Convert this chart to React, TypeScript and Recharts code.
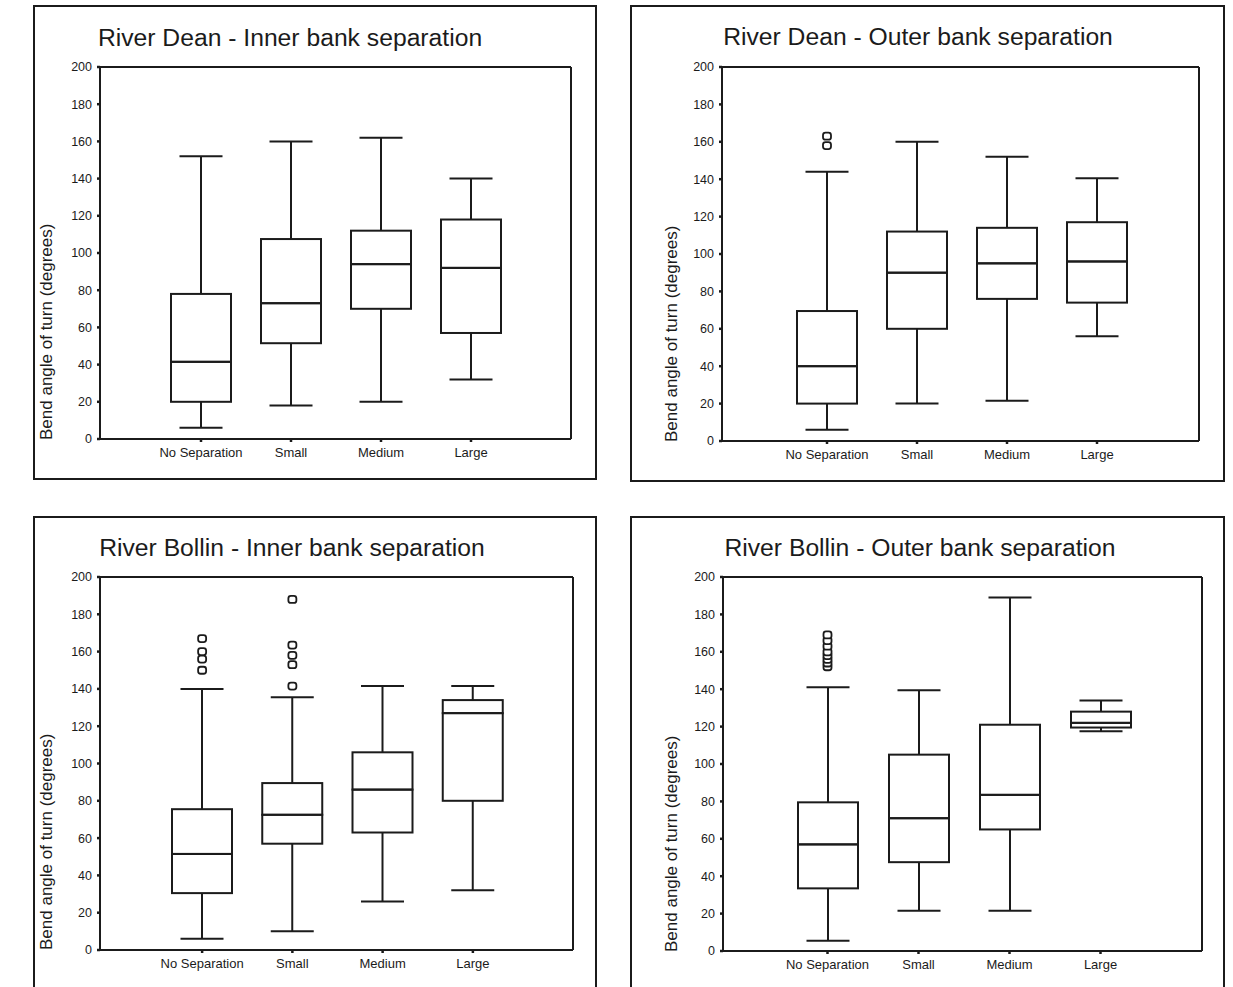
import React from 'react';
import { ComposedChart, Bar, Scatter, XAxis, YAxis } from 'recharts';

const categories = ['No Separation', 'Small', 'Medium', 'Large'];
const yTicks = [0, 20, 40, 60, 80, 100, 120, 140, 160, 180, 200];

// five-number summaries per category: [min, q1, median, q3, max]
const deanInnerStats = [
  [6, 20, 41.5, 78, 152],
  [18, 51.5, 73, 107.5, 160],
  [20, 70, 94, 112, 162],
  [32, 57, 92, 118, 140],
];
const deanInnerOutliers = [[], [], [], []];

const deanOuterStats = [
  [6, 20, 40, 69.5, 144],
  [20, 60, 90, 112, 160],
  [21.5, 76, 95, 114, 152],
  [56, 74, 96, 117, 140.5],
];
const deanOuterOutliers = [[158, 163], [], [], []];

const bollinInnerStats = [
  [6, 30.5, 51.5, 75.5, 140],
  [10, 57, 72.5, 89.5, 135.5],
  [26, 63, 86, 106, 141.5],
  [32, 80, 127, 134, 141.5],
];
const bollinInnerOutliers = [[150, 156, 160, 167], [141.5, 153, 158, 163.5, 188], [], []];

const bollinOuterStats = [
  [5.5, 33.5, 57, 79.5, 141],
  [21.5, 47.5, 71, 105, 139.5],
  [21.5, 65, 83.5, 121, 189],
  [117.5, 119.5, 122, 128, 134],
];
const bollinOuterOutliers = [[152, 154, 156, 158, 160, 163, 166, 169], [], [], []];

const INK = '#1b1b1b';
const FONT = '"Liberation Sans", Arial, Helvetica, sans-serif';
const MAX_OUT = 8;
const outKeys = Array.from({ length: MAX_OUT }, (_, i) => `o${i}`);

function buildRows(stats: number[][], outliers: number[][]) {
  return categories.map((cat, i) => {
    const [mn, q1, md, q3, mx] = stats[i];
    const row: any = { cat, base: mn, lw: q1 - mn, lb: md - q1, hb: q3 - md, hw: mx - q3 };
    outliers[i].forEach((v, j) => { row[`o${j}`] = v; });
    return row;
  });
}

const CAP = 43;

const LowWhisker = (p: any) => {
  const cx = p.x + p.width / 2;
  const yb = p.y + p.height;
  return (
    <g stroke={INK} strokeWidth={2}>
      <line x1={cx} x2={cx} y1={p.y} y2={yb} />
      <line x1={cx - CAP / 2} x2={cx + CAP / 2} y1={yb} y2={yb} />
    </g>
  );
};

const HighWhisker = (p: any) => {
  const cx = p.x + p.width / 2;
  return (
    <g stroke={INK} strokeWidth={2}>
      <line x1={cx} x2={cx} y1={p.y} y2={p.y + p.height} />
      <line x1={cx - CAP / 2} x2={cx + CAP / 2} y1={p.y} y2={p.y} />
    </g>
  );
};

const BoxPart = (p: any) => (
  <rect x={p.x} y={p.y} width={p.width} height={p.height} fill="none" stroke={INK} strokeWidth={2} />
);

const outlierShape = (key: string) => (p: any) => {
  if (!p.payload || p.payload[key] == null) return <g />;
  return <rect x={p.cx - 4} y={p.cy - 3.5} width={8} height={7} rx={2.5} fill="#fff" stroke={INK} strokeWidth={1.8} />;
};

const YW = 45;
const XH = 30;
const EDGE = 1; // size of the top / right frame axes

interface PanelProps {
  title: string;
  rows: any[];
  frame: { left: number; top: number; width: number; height: number };
  plot: { left: number; top: number; right: number; bottom: number };
  pad: { left: number; right: number };
  titleAt: { x: number; y: number };
  labelAt: { x: number; y: number };
}

const Panel: React.FC<PanelProps> = ({ title, rows, frame, plot, pad, titleAt, labelAt }) => {
  const margin = {
    left: plot.left - frame.left - YW,
    top: plot.top - frame.top - EDGE,
    right: frame.left + frame.width - plot.right - EDGE,
    bottom: frame.top + frame.height - plot.bottom - XH,
  };
  return (
    <>
      <div
        style={{
          position: 'absolute', left: frame.left, top: frame.top, width: frame.width - 4,
          height: frame.height - 4, border: `2px solid ${INK}`,
        }}
      />
      <div
        style={{
          position: 'absolute', left: titleAt.x - 300, top: titleAt.y - 14, width: 600, textAlign: 'center',
          fontSize: 24.7, lineHeight: '28px', color: INK, fontFamily: FONT,
        }}
      >
        {title}
      </div>
      <div
        style={{
          position: 'absolute', left: labelAt.x - 10, top: labelAt.y, transform: 'rotate(-90deg)',
          transformOrigin: '0 0', whiteSpace: 'nowrap', fontSize: 17, lineHeight: '20px', color: INK, fontFamily: FONT,
        }}
      >
        Bend angle of turn (degrees)
      </div>
      <div style={{ position: 'absolute', left: frame.left, top: frame.top }}>
        <ComposedChart width={frame.width} height={frame.height} data={rows} margin={margin}>
          <XAxis
            dataKey="cat"
            interval={0}
            padding={pad}
            height={XH}
            tickSize={3}
            tickMargin={6}
            axisLine={{ stroke: INK, strokeWidth: 2 }}
            tickLine={{ stroke: INK, strokeWidth: 2.5 }}
            tick={{ fill: INK, fontSize: 13, fontFamily: FONT }}
          />
          <XAxis
            xAxisId="top"
            orientation="top"
            dataKey="cat"
            height={EDGE}
            tick={false}
            tickLine={false}
            axisLine={{ stroke: INK, strokeWidth: 2 }}
          />
          <YAxis
            domain={[0, 200]}
            ticks={yTicks}
            width={YW}
            tickSize={3}
            tickMargin={5}
            axisLine={{ stroke: INK, strokeWidth: 2 }}
            tickLine={{ stroke: INK, strokeWidth: 2.5 }}
            tick={{ fill: INK, fontSize: 12.5, fontFamily: FONT }}
          />
          <YAxis
            yAxisId="right"
            orientation="right"
            domain={[0, 200]}
            width={EDGE}
            tick={false}
            tickLine={false}
            axisLine={{ stroke: INK, strokeWidth: 2 }}
          />
          <Bar dataKey="base" stackId="b" barSize={60} fill="none" isAnimationActive={false} shape={() => <g />} />
          <Bar dataKey="lw" stackId="b" barSize={60} isAnimationActive={false} shape={LowWhisker} />
          <Bar dataKey="lb" stackId="b" barSize={60} isAnimationActive={false} shape={BoxPart} />
          <Bar dataKey="hb" stackId="b" barSize={60} isAnimationActive={false} shape={BoxPart} />
          <Bar dataKey="hw" stackId="b" barSize={60} isAnimationActive={false} shape={HighWhisker} />
          {outKeys.map((k) => (
            <Scatter key={k} dataKey={k} isAnimationActive={false} shape={outlierShape(k)} />
          ))}
        </ComposedChart>
      </div>
    </>
  );
};

export default function App() {
  return (
    <div
      style={{
        position: 'absolute', left: 0, top: 0, width: 1233, height: 987, overflow: 'hidden',
        background: '#fff', fontFamily: FONT,
      }}
    >
      <Panel
        title="River Dean - Inner bank separation"
        rows={buildRows(deanInnerStats, deanInnerOutliers)}
        frame={{ left: 33, top: 5, width: 564, height: 475 }}
        plot={{ left: 100, top: 67, right: 571, bottom: 439 }}
        pad={{ left: 56, right: 55 }}
        titleAt={{ x: 290, y: 38 }}
        labelAt={{ x: 47, y: 440 }}
      />
      <Panel
        title="River Dean - Outer bank separation"
        rows={buildRows(deanOuterStats, deanOuterOutliers)}
        frame={{ left: 630, top: 5, width: 595, height: 477 }}
        plot={{ left: 722, top: 67, right: 1199, bottom: 441 }}
        pad={{ left: 60, right: 57 }}
        titleAt={{ x: 918, y: 37 }}
        labelAt={{ x: 672, y: 442 }}
      />
      <Panel
        title="River Bollin - Inner bank separation"
        rows={buildRows(bollinInnerStats, bollinInnerOutliers)}
        frame={{ left: 33, top: 516, width: 564, height: 474 }}
        plot={{ left: 100, top: 577, right: 573, bottom: 950 }}
        pad={{ left: 57, right: 55 }}
        titleAt={{ x: 292, y: 548 }}
        labelAt={{ x: 47, y: 950 }}
      />
      <Panel
        title="River Bollin - Outer bank separation"
        rows={buildRows(bollinOuterStats, bollinOuterOutliers)}
        frame={{ left: 630, top: 516, width: 595, height: 474 }}
        plot={{ left: 723, top: 577, right: 1202, bottom: 951 }}
        pad={{ left: 59, right: 56 }}
        titleAt={{ x: 920, y: 548 }}
        labelAt={{ x: 672, y: 952 }}
      />
    </div>
  );
}
